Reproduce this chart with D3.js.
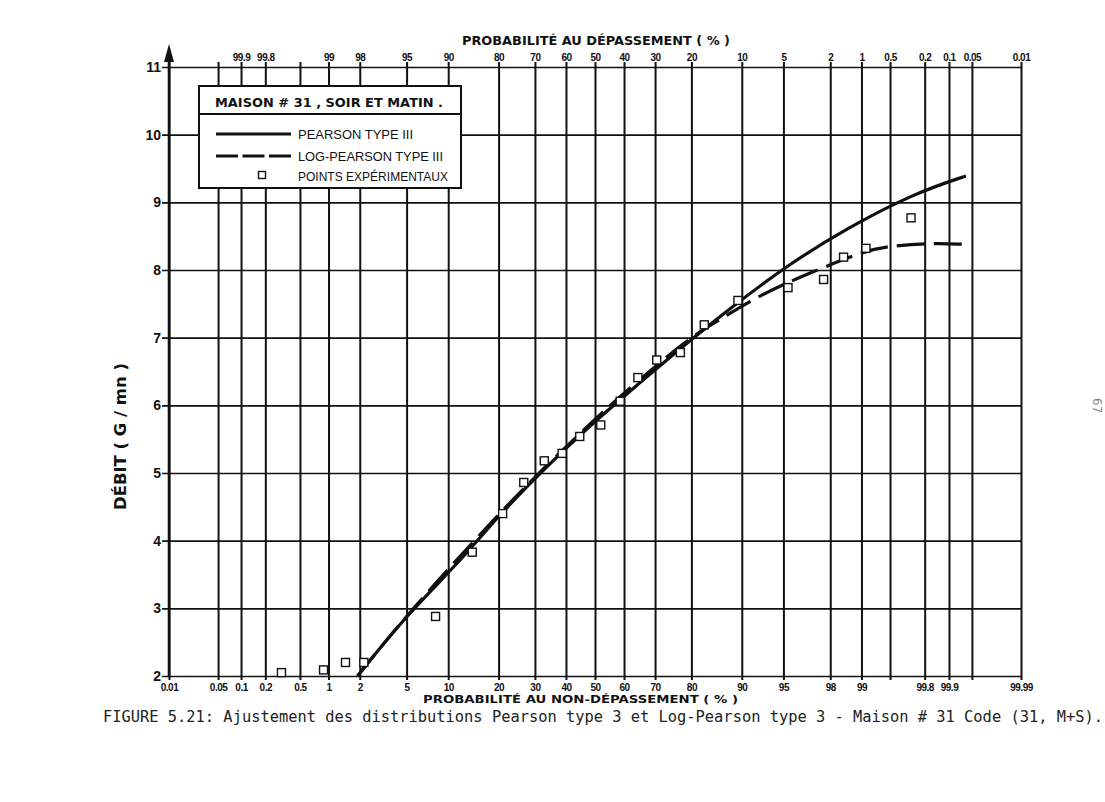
<!DOCTYPE html>
<html>
<head>
<meta charset="utf-8">
<script src="https://cdn.jsdelivr.net/npm/d3@7"></script>
<style>
  body { margin: 0; background: #fff; }
  svg { display: block; }
</style>
</head>
<body>
<div id="chart"></div>
<script>
// probability grid (non-exceedance, %)
const gridProb = [0.01, 0.05, 0.1, 0.2, 0.5, 1, 2, 5, 10, 20, 30, 40, 50, 60, 70, 80, 90, 95, 98, 99, 99.5, 99.8, 99.9, 99.95, 99.99];
const bottomLabels = ['0.01', '0.05', '0.1', '0.2', '0.5', '1', '2', '5', '10', '20', '30', '40', '50', '60', '70', '80', '90', '95', '98', '99', '', '99.8', '99.9', '', '99.99'];
// top axis: exceedance %
const topProb = [99.9, 99.8, 99, 98, 95, 90, 80, 70, 60, 50, 40, 30, 20, 10, 5, 2, 1, 0.5, 0.2, 0.1, 0.05, 0.01];
const topLabels = ['99.9', '99.8', '99', '98', '95', '90', '80', '70', '60', '50', '40', '30', '20', '10', '5', '2', '1', '0.5', '0.2', '0.1', '0.05', '0.01'];
const flowTicks = [2, 3, 4, 5, 6, 7, 8, 9, 10, 11];

// experimental points
const pointProb = [0.31, 0.89, 1.47, 2.18, 8.2, 14.2, 21.0, 26.7, 32.9, 38.7, 44.7, 52.0, 58.7, 64.6, 70.5, 77.2, 83.0, 89.4, 95.4, 97.7, 98.5, 99.1, 99.71];
const pointFlow = [2.05, 2.09, 2.20, 2.20, 2.88, 3.83, 4.40, 4.86, 5.18, 5.29, 5.54, 5.71, 6.06, 6.41, 6.67, 6.78, 7.19, 7.55, 7.74, 7.86, 8.19, 8.32, 8.77];

// Pearson type III fit
const pearsonProb = [1.91, 4.98, 12.5, 20.3, 38.0, 51.7, 77.1, 89.2, 95.6, 98.62, 99.73, 99.94];
const pearsonFlow = [2.00, 2.90, 3.74, 4.40, 5.29, 5.83, 6.84, 7.51, 8.10, 8.62, 9.13, 9.39];

// Log-Pearson type III fit
const logPearsonProb = [1.91, 4.98, 20.3, 38.0, 55.2, 63.1, 78.9, 84.97, 92.56, 97.19, 99.13, 99.547, 99.846, 99.936];
const logPearsonFlow = [2.00, 2.90, 4.42, 5.31, 6.00, 6.30, 6.97, 7.21, 7.64, 7.98, 8.30, 8.36, 8.40, 8.38];

const W = 1105, H = 802;
const xL = 169, xR = 1021, yT = 67, yB = 676;
const ink = '#111';

// inverse normal CDF (Acklam)
const probit = p => {
  const a = [-3.969683028665376e+01, 2.209460984245205e+02, -2.759285104469687e+02, 1.383577518672690e+02, -3.066479806614716e+01, 2.506628277459239e+00];
  const b = [-5.447609879822406e+01, 1.615858368580409e+02, -1.556989798598866e+02, 6.680131188771972e+01, -1.328068155288572e+01];
  const c = [-7.784894002430293e-03, -3.223964580411365e-01, -2.400758277161838e+00, -2.549732539343734e+00, 4.374664141464968e+00, 2.938163982698783e+00];
  const d = [7.784695709041462e-03, 3.224671290700398e-01, 2.445134137142996e+00, 3.754408661907416e+00];
  const pl = 0.02425;
  let q, r;
  if (p < pl) {
    q = Math.sqrt(-2 * Math.log(p));
    return (((((c[0]*q+c[1])*q+c[2])*q+c[3])*q+c[4])*q+c[5]) / ((((d[0]*q+d[1])*q+d[2])*q+d[3])*q+1);
  }
  if (p <= 1 - pl) {
    q = p - 0.5; r = q * q;
    return (((((a[0]*r+a[1])*r+a[2])*r+a[3])*r+a[4])*r+a[5])*q / (((((b[0]*r+b[1])*r+b[2])*r+b[3])*r+b[4])*r+1);
  }
  q = Math.sqrt(-2 * Math.log(1 - p));
  return -(((((c[0]*q+c[1])*q+c[2])*q+c[3])*q+c[4])*q+c[5]) / ((((d[0]*q+d[1])*q+d[2])*q+d[3])*q+1);
};

const zMax = probit(0.9999);
const x = d3.scaleLinear().domain([-zMax, zMax]).range([xL, xR]);
const px = p => x(probit(p / 100));
const y = d3.scaleLinear().domain([2, 11]).range([yB, yT]);

const svg = d3.select('#chart').append('svg')
  .attr('width', W).attr('height', H)
  .style('font-family', '"DejaVu Sans", sans-serif');

svg.append('rect').attr('width', W).attr('height', H).attr('fill', '#fff');

// horizontal grid + y labels
const yAxis = svg.append('g')
  .attr('transform', `translate(${xR},0)`)
  .call(d3.axisLeft(y).tickValues(flowTicks).tickSizeInner(xR - 162).tickSizeOuter(0).tickPadding(1).tickFormat(d3.format('d')));
yAxis.select('.domain').remove();
yAxis.selectAll('line').attr('stroke', ink).attr('stroke-width', 1.6);
yAxis.selectAll('text')
  .attr('fill', ink).attr('font-size', 14).attr('font-weight', 'bold')
  .attr('font-family', '"Liberation Sans", sans-serif');

// vertical grid + bottom labels
const xAxis = svg.append('g')
  .attr('transform', `translate(0,${yB + 4})`)
  .call(d3.axisBottom(x)
    .tickValues(gridProb.map(p => probit(p / 100)))
    .tickSizeInner(-(yB + 4 - 62)).tickSizeOuter(0)
    .tickFormat((d, i) => bottomLabels[i]));
xAxis.select('.domain').remove();
xAxis.selectAll('line').attr('stroke', ink).attr('stroke-width', 2);
xAxis.selectAll('text')
  .attr('y', 11).attr('dy', null)
  .attr('fill', ink).attr('font-size', 10).attr('font-weight', 'bold')
  .attr('letter-spacing', -0.5);

// top labels (exceedance)
const topAxis = svg.append('g')
  .attr('transform', `translate(0,62)`)
  .call(d3.axisTop(x)
    .tickValues(topProb.map(p => probit((100 - p) / 100)))
    .tickSize(0).tickPadding(1)
    .tickFormat((d, i) => topLabels[i]));
topAxis.select('.domain').remove();
topAxis.selectAll('text')
  .attr('fill', ink).attr('font-size', 10).attr('font-weight', 'bold')
  .attr('letter-spacing', -0.5);

// left axis with arrow
svg.append('line')
  .attr('x1', xL).attr('x2', xL).attr('y1', yB).attr('y2', 56)
  .attr('stroke', ink).attr('stroke-width', 2.6);
svg.append('path')
  .attr('d', `M${xL},44 L${xL - 5},62 L${xL + 5},62 Z`)
  .attr('fill', ink);

// axis titles
svg.append('text')
  .attr('x', 462).attr('y', 45)
  .attr('textLength', 268).attr('lengthAdjust', 'spacingAndGlyphs')
  .attr('font-size', 12).attr('font-weight', 'bold').attr('fill', ink)
  .text('PROBABILITÉ  AU  DÉPASSEMENT  ( % )');

svg.append('text')
  .attr('x', 423).attr('y', 703)
  .attr('textLength', 315).attr('lengthAdjust', 'spacingAndGlyphs')
  .attr('font-size', 11).attr('font-weight', 'bold').attr('fill', ink)
  .text('PROBABILITÉ  AU  NON-DÉPASSEMENT  ( % )');

svg.append('text')
  .attr('transform', 'translate(126,510) rotate(-90)')
  .attr('textLength', 147).attr('lengthAdjust', 'spacingAndGlyphs')
  .attr('font-size', 15).attr('font-weight', 'bold').attr('fill', ink)
  .text('DÉBIT  ( G / mn )');

// caption
svg.append('text')
  .attr('x', 103).attr('y', 722)
  .attr('textLength', 1000).attr('lengthAdjust', 'spacingAndGlyphs')
  .attr('font-family', '"DejaVu Sans Mono", monospace')
  .attr('font-size', 15).attr('fill', '#222')
  .text('FIGURE 5.21:  Ajustement des distributions Pearson type 3 et Log-Pearson type 3 - Maison # 31 Code (31, M+S).');

// page number
svg.append('text')
  .attr('transform', 'translate(1093,398) rotate(90)')
  .attr('font-size', 12).attr('fill', '#888')
  .text('67');

// curves
const line = d3.line()
  .x(d => px(d[0]))
  .y(d => y(d[1]))
  .curve(d3.curveBasis);

svg.append('path')
  .datum(d3.zip(pearsonProb, pearsonFlow))
  .attr('d', line)
  .attr('fill', 'none').attr('stroke', ink).attr('stroke-width', 3.2);

svg.append('path')
  .datum(d3.zip(logPearsonProb, logPearsonFlow))
  .attr('d', line)
  .attr('fill', 'none').attr('stroke', ink).attr('stroke-width', 3.2)
  .attr('stroke-dasharray', '28,9');

// experimental points
const sq = 8;
svg.append('g').selectAll('rect')
  .data(d3.zip(pointProb, pointFlow))
  .join('rect')
  .attr('x', d => px(d[0]) - sq / 2)
  .attr('y', d => y(d[1]) - sq / 2)
  .attr('width', sq).attr('height', sq)
  .attr('fill', '#fff').attr('stroke', ink).attr('stroke-width', 1.4);

// legend
const lg = svg.append('g');
lg.append('rect')
  .attr('x', 199).attr('y', 86).attr('width', 262).attr('height', 102)
  .attr('fill', '#fff').attr('stroke', ink).attr('stroke-width', 2);
lg.append('line')
  .attr('x1', 199).attr('x2', 461).attr('y1', 114).attr('y2', 114)
  .attr('stroke', ink).attr('stroke-width', 1.8);
lg.append('text')
  .attr('x', 215).attr('y', 107)
  .attr('textLength', 228).attr('lengthAdjust', 'spacingAndGlyphs')
  .attr('font-size', 13).attr('font-weight', 'bold').attr('fill', ink)
  .text('MAISON  # 31 , SOIR ET MATIN .');

const legendItems = ['PEARSON TYPE III', 'LOG-PEARSON TYPE III', 'POINTS EXPÉRIMENTAUX'];
const legendWidths = [115, 145, 150];
const legendY = [134, 156, 176];
legendItems.forEach((t, i) => {
  lg.append('text')
    .attr('x', 298).attr('y', legendY[i] + 5)
    .attr('textLength', legendWidths[i]).attr('lengthAdjust', 'spacingAndGlyphs')
    .attr('font-family', '"Liberation Sans", sans-serif')
    .attr('font-size', 13).attr('fill', ink)
    .text(t);
});
lg.append('line')
  .attr('x1', 216).attr('x2', 291).attr('y1', 134).attr('y2', 134)
  .attr('stroke', ink).attr('stroke-width', 3);
lg.append('line')
  .attr('x1', 216).attr('x2', 291).attr('y1', 156).attr('y2', 156)
  .attr('stroke', ink).attr('stroke-width', 3)
  .attr('stroke-dasharray', '22,4.5');
lg.append('rect')
  .attr('x', 262 - 3.5).attr('y', 175 - 3.5).attr('width', 7).attr('height', 7)
  .attr('fill', '#fff').attr('stroke', ink).attr('stroke-width', 1.4);
</script>
</body>
</html>
